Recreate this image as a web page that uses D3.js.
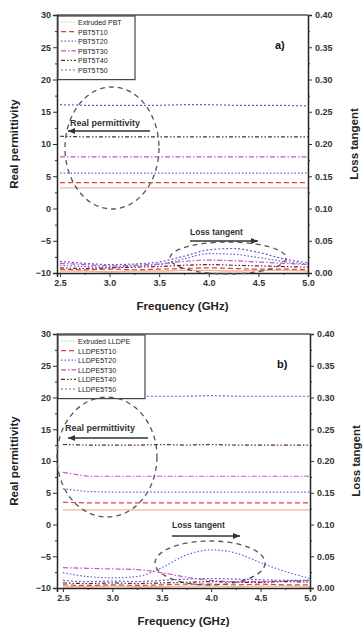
<!DOCTYPE html>
<html><head><meta charset="utf-8">
<script src="https://cdn.jsdelivr.net/npm/d3@7"></script>
<style>body{margin:0;background:#fff}svg{display:block}text{font-family:"Liberation Sans",Arial,sans-serif}</style>
</head><body><svg id="c" width="363" height="635"></svg>
<script>
const freq = [2.5, 2.75, 3.0, 3.25, 3.5, 3.75, 4.0, 4.25, 4.5, 4.75, 5.0];
const leftTicks = [-10, -5, 0, 5, 10, 15, 20, 25, 30];
const rightTicks = [0.00, 0.05, 0.10, 0.15, 0.20, 0.25, 0.30, 0.35, 0.40];
const xTicks = [2.5, 3.0, 3.5, 4.0, 4.5, 5.0];

const namesA = ["Extruded PBT", "PBT5T10", "PBT5T20", "PBT5T30", "PBT5T40", "PBT5T50"];
const namesB = ["Extruded LLDPE", "LLDPE5T10", "LLDPE5T20", "LLDPE5T30", "LLDPE5T40", "LLDPE5T50"];

// Panel a: real permittivity
const permA_ext = [3.2, 3.2, 3.2, 3.2, 3.2, 3.2, 3.2, 3.2, 3.2, 3.2, 3.2];
const permA_t10 = [4.0, 4.0, 4.0, 4.0, 4.0, 4.0, 4.0, 4.0, 4.0, 4.0, 4.0];
const permA_t20 = [5.5, 5.5, 5.5, 5.5, 5.5, 5.5, 5.5, 5.5, 5.5, 5.5, 5.5];
const permA_t30 = [8.0, 8.0, 8.0, 8.0, 8.0, 8.0, 8.0, 8.0, 8.0, 8.0, 8.0];
const permA_t40 = [11.2, 11.1, 11.1, 11.1, 11.1, 11.1, 11.1, 11.1, 11.1, 11.1, 11.1];
const permA_t50 = [16.1, 16.0, 16.0, 16.0, 16.0, 16.1, 16.1, 16.0, 16.0, 16.0, 15.9];
// Panel a: loss tangent
const lossA_ext = [0.003, 0.003, 0.002, 0.003, 0.003, 0.004, 0.004, 0.003, 0.004, 0.004, 0.003];
const lossA_t10 = [0.006, 0.005, 0.006, 0.005, 0.006, 0.007, 0.008, 0.007, 0.006, 0.006, 0.005];
const lossA_t20 = [0.012, 0.010, 0.009, 0.011, 0.013, 0.022, 0.030, 0.029, 0.024, 0.018, 0.014];
const lossA_t30 = [0.015, 0.013, 0.011, 0.012, 0.014, 0.018, 0.020, 0.019, 0.017, 0.015, 0.013];
const lossA_t40 = [0.008, 0.007, 0.008, 0.009, 0.010, 0.012, 0.013, 0.012, 0.011, 0.010, 0.009];
const lossA_t50 = [0.018, 0.015, 0.013, 0.014, 0.017, 0.026, 0.036, 0.038, 0.032, 0.022, 0.016];

// Panel b: real permittivity
const permB_ext = [2.3, 2.3, 2.3, 2.3, 2.3, 2.3, 2.3, 2.3, 2.3, 2.3, 2.3];
const permB_t10 = [3.5, 3.4, 3.4, 3.4, 3.4, 3.4, 3.4, 3.4, 3.4, 3.4, 3.4];
const permB_t20 = [5.6, 5.2, 5.1, 5.1, 5.1, 5.1, 5.1, 5.1, 5.1, 5.1, 5.1];
const permB_t30 = [8.2, 7.6, 7.6, 7.6, 7.6, 7.6, 7.6, 7.6, 7.6, 7.6, 7.6];
const permB_t40 = [12.6, 12.5, 12.5, 12.5, 12.6, 12.5, 12.6, 12.5, 12.5, 12.5, 12.5];
const permB_t50 = [20.2, 20.2, 20.1, 20.2, 20.2, 20.2, 20.3, 20.2, 20.2, 20.2, 20.2];
// Panel b: loss tangent
const lossB_ext = [0.002, 0.002, 0.003, 0.002, 0.002, 0.003, 0.003, 0.002, 0.003, 0.003, 0.002];
const lossB_t10 = [0.005, 0.004, 0.005, 0.004, 0.005, 0.006, 0.006, 0.005, 0.006, 0.005, 0.005];
const lossB_t20 = [0.024, 0.018, 0.016, 0.018, 0.032, 0.052, 0.060, 0.055, 0.040, 0.026, 0.015];
const lossB_t30 = [0.032, 0.031, 0.030, 0.029, 0.024, 0.017, 0.012, 0.010, 0.010, 0.011, 0.012];
const lossB_t40 = [0.008, 0.007, 0.008, 0.007, 0.008, 0.009, 0.010, 0.009, 0.009, 0.010, 0.009];
const lossB_t50 = [0.012, 0.010, 0.011, 0.010, 0.012, 0.014, 0.015, 0.014, 0.013, 0.012, 0.012];

const colors = ["#f0b49c", "#e0403a", "#4a6ad8", "#d24cc8", "#5a2a2a", "#6a5ad0"];
const dashes = [null, "5,3", "1.5,2", "5,2,1.5,2", "4,2,1.5,2,1.5,2", "2,2"];
const widths = [1.4, 1.2, 1.2, 1.2, 1.2, 1.2];

const svg = d3.select("#c");

function panel(cfg) {
  const x = d3.scaleLinear().domain(cfg.xdom).range([cfg.x0, cfg.x1]);
  const yL = d3.scaleLinear().domain([-10, 30]).range([cfg.y1, cfg.y0]);
  const yR = d3.scaleLinear().domain([0, 0.4]).range([cfg.y1, cfg.y0]);
  const g = svg.append("g");

  g.append("line").attr("x1", cfg.x0).attr("x2", cfg.x1).attr("y1", cfg.y0).attr("y2", cfg.y0)
    .attr("stroke", "#555").attr("stroke-width", 1.5);

  const permLine = d3.line().x((d, i) => x(freq[i])).y(d => yL(d));
  const lossLine = d3.line().x((d, i) => x(freq[i])).y(d => yR(d)).curve(d3.curveMonotoneX);
  cfg.perm.forEach((s, k) => {
    g.append("path").attr("d", permLine(s)).attr("fill", "none").attr("stroke", colors[k])
      .attr("stroke-width", widths[k]).attr("stroke-dasharray", dashes[k]);
  });
  cfg.loss.forEach((s, k) => {
    g.append("path").attr("d", lossLine(s)).attr("fill", "none").attr("stroke", colors[k])
      .attr("stroke-width", widths[k]).attr("stroke-dasharray", dashes[k]);
  });

  const fmtL = d => d3.format("d")(d);
  const fmtR = d => d3.format(".2f")(d);
  const la = g.append("g").attr("transform", `translate(${cfg.x0},0)`)
    .call(d3.axisLeft(yL).tickValues(leftTicks).tickFormat(fmtL).tickSize(4).tickPadding(2));
  g.append("g").attr("transform", `translate(${cfg.x0},0)`)
    .call(d3.axisLeft(yL).tickValues(d3.range(-7.5, 30, 5)).tickFormat("").tickSize(2))
    .select(".domain").remove();
  const ra = g.append("g").attr("transform", `translate(${cfg.x1},0)`)
    .call(d3.axisRight(yR).tickValues(rightTicks).tickFormat(fmtR).tickSize(4).tickPadding(3));
  g.append("g").attr("transform", `translate(${cfg.x1},0)`)
    .call(d3.axisRight(yR).tickValues(d3.range(0.025, 0.4, 0.05)).tickFormat("").tickSize(2))
    .select(".domain").remove();
  const ba = g.append("g").attr("transform", `translate(0,${cfg.y1})`)
    .call(d3.axisBottom(x).tickValues(xTicks).tickFormat(d3.format(".1f")).tickSize(4).tickPadding(3));
  g.append("g").attr("transform", `translate(0,${cfg.y1})`)
    .call(d3.axisBottom(x).tickValues([2.75, 3.25, 3.75, 4.25, 4.75]).tickFormat("").tickSize(2))
    .select(".domain").remove();
  [la, ra, ba].forEach(a => {
    a.selectAll("text").attr("font-size", 9).attr("font-weight", "bold").attr("fill", "#333");
    a.select(".domain").attr("stroke", "#222").attr("stroke-width", 1.5);
  });
  svg.selectAll(".tick line").attr("stroke", "#333");

  g.append("text").attr("transform", `translate(${cfg.x0 - 39},${(cfg.y0 + cfg.y1) / 2}) rotate(-90)`)
    .attr("text-anchor", "middle").attr("font-size", 11.5).attr("font-weight", "bold").attr("fill", "#222")
    .text("Real permittivity");
  g.append("text").attr("transform", `translate(${cfg.x1 + 50},${(cfg.y0 + cfg.y1) / 2}) rotate(-90)`)
    .attr("text-anchor", "middle").attr("font-size", 11.5).attr("font-weight", "bold").attr("fill", "#222")
    .text("Loss tangent");
  g.append("text").attr("x", (cfg.x0 + cfg.x1) / 2).attr("y", cfg.y1 + 37)
    .attr("text-anchor", "middle").attr("font-size", 11.5).attr("font-weight", "bold").attr("fill", "#222")
    .text("Frequency (GHz)");

  g.append("text").attr("x", cfg.x1 - 33).attr("y", cfg.y0 + 34).attr("font-size", 11)
    .attr("font-weight", "bold").attr("fill", "#111").text(cfg.tag);

  const lg = g.append("g");
  const lw = cfg.legW, rowH = 9.6;
  lg.append("rect").attr("x", cfg.x0 + 1).attr("y", cfg.y0 + 1).attr("width", lw).attr("height", rowH * 6 + 6)
    .attr("fill", "#fff").attr("stroke", "#444").attr("stroke-width", 1.2);
  cfg.names.forEach((n, k) => {
    const yy = cfg.y0 + 7 + k * rowH;
    lg.append("line").attr("x1", cfg.x0 + 4).attr("x2", cfg.x0 + 19).attr("y1", yy).attr("y2", yy)
      .attr("stroke", k === 0 ? "#bbb" : colors[k]).attr("stroke-width", 1.2)
      .attr("stroke-dasharray", k === 0 ? "1.5,1.5" : dashes[k]);
    lg.append("text").attr("x", cfg.x0 + 21).attr("y", yy + 3).attr("font-size", 7)
      .attr("fill", "#222").text(n);
  });

  const ann = cfg.ann;
  g.append("ellipse").attr("cx", ann.e1[0]).attr("cy", ann.e1[1]).attr("rx", ann.e1[2]).attr("ry", ann.e1[3])
    .attr("fill", "none").attr("stroke", "#555").attr("stroke-width", 1.3).attr("stroke-dasharray", "5,4");
  g.append("ellipse").attr("cx", ann.e2[0]).attr("cy", ann.e2[1]).attr("rx", ann.e2[2]).attr("ry", ann.e2[3])
    .attr("fill", "none").attr("stroke", "#555").attr("stroke-width", 1.3).attr("stroke-dasharray", "5,4");
  g.append("text").attr("x", ann.t1[0]).attr("y", ann.t1[1]).attr("font-size", 9).attr("font-weight", "bold")
    .attr("fill", "#333").text("Real permittivity");
  g.append("text").attr("x", ann.t2[0]).attr("y", ann.t2[1]).attr("font-size", 8.5).attr("font-weight", "bold")
    .attr("fill", "#333").text("Loss tangent");
  const ar = (x1, x2, yy) => {
    g.append("line").attr("x1", x1).attr("x2", x2).attr("y1", yy).attr("y2", yy)
      .attr("stroke", "#333").attr("stroke-width", 1.5);
    const dir = x2 > x1 ? 1 : -1;
    g.append("path").attr("d", `M${x2},${yy} L${x2 - dir * 7},${yy - 3} L${x2 - dir * 7},${yy + 3} Z`).attr("fill", "#333");
  };
  ar(ann.a1[0], ann.a1[1], ann.a1[2]);
  ar(ann.a2[0], ann.a2[1], ann.a2[2]);
}

panel({
  x0: 57, x1: 308, y0: 15, y1: 273, xdom: [2.47, 5.0], tag: "a)", names: namesA, legW: 77,
  perm: [permA_ext, permA_t10, permA_t20, permA_t30, permA_t40, permA_t50],
  loss: [lossA_ext, lossA_t10, lossA_t20, lossA_t30, lossA_t40, lossA_t50],
  ann: { e1: [112, 148, 47, 61], e2: [228, 258, 58, 16], t1: [70, 126], t2: [190, 235],
         a1: [150, 68, 131], a2: [190, 258, 241] }
});
panel({
  x0: 57, x1: 310, y0: 334, y1: 588, xdom: [2.44, 5.0], tag: "b)", names: namesB, legW: 87,
  perm: [permB_ext, permB_t10, permB_t20, permB_t30, permB_t40, permB_t50],
  loss: [lossB_ext, lossB_t10, lossB_t20, lossB_t30, lossB_t40, lossB_t50],
  ann: { e1: [107, 457, 50, 60], e2: [210, 563, 55, 22], t1: [65, 431], t2: [172, 528],
         a1: [148, 68, 438], a2: [172, 240, 536] }
});
</script></body></html>
